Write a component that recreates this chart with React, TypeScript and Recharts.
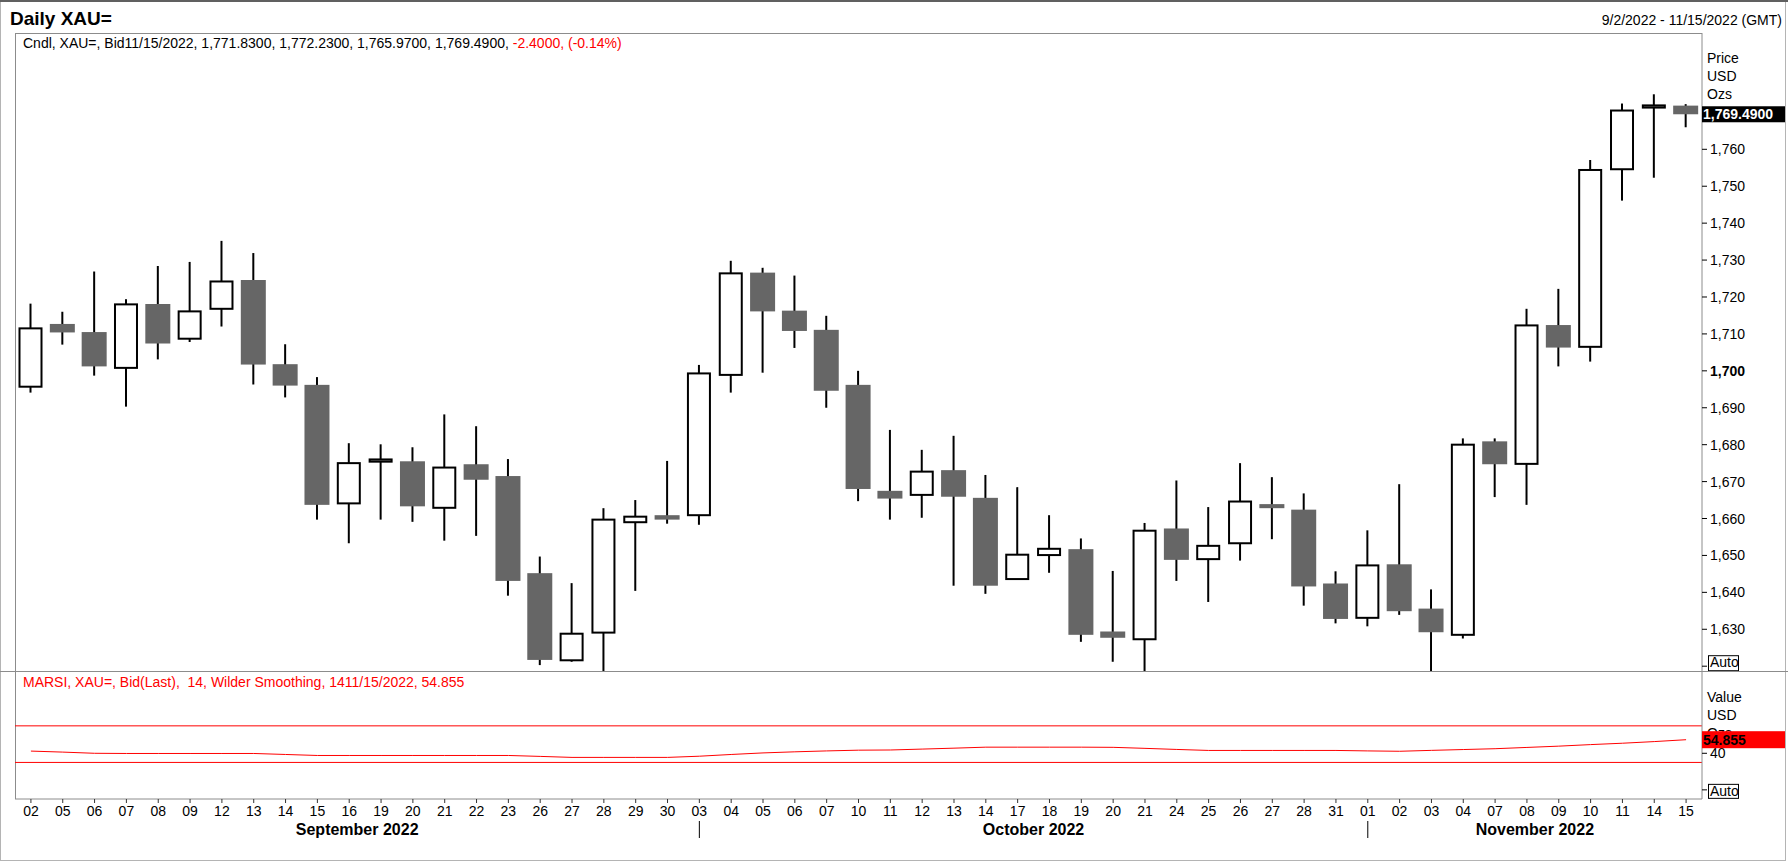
import React from "react";
import { ComposedChart, Bar, Line, XAxis, YAxis, ReferenceLine } from "recharts";

// ---------- data ----------
const dates: string[] = [
  "2022-09-02", "2022-09-05", "2022-09-06", "2022-09-07", "2022-09-08", "2022-09-09", "2022-09-12",
  "2022-09-13", "2022-09-14", "2022-09-15", "2022-09-16", "2022-09-19", "2022-09-20", "2022-09-21",
  "2022-09-22", "2022-09-23", "2022-09-26", "2022-09-27", "2022-09-28", "2022-09-29", "2022-09-30",
  "2022-10-03", "2022-10-04", "2022-10-05", "2022-10-06", "2022-10-07", "2022-10-10", "2022-10-11",
  "2022-10-12", "2022-10-13", "2022-10-14", "2022-10-17", "2022-10-18", "2022-10-19", "2022-10-20",
  "2022-10-21", "2022-10-24", "2022-10-25", "2022-10-26", "2022-10-27", "2022-10-28", "2022-10-31",
  "2022-11-01", "2022-11-02", "2022-11-03", "2022-11-04", "2022-11-07", "2022-11-08", "2022-11-09",
  "2022-11-10", "2022-11-11", "2022-11-14", "2022-11-15",
];

const opens: number[] = [
  1695.7, 1712.7, 1710.5, 1700.8, 1718.1, 1708.7, 1716.8, 1724.6, 1701.8, 1696.2, 1664.1, 1675.4, 1675.5, 1662.9,
  1674.7, 1671.5, 1645.2, 1621.6, 1629.1, 1659.0, 1660.9, 1660.9, 1698.9, 1726.6, 1716.3, 1711.1, 1696.2, 1667.5,
  1666.4, 1673.1, 1665.6, 1643.6, 1650.1, 1651.7, 1629.4, 1627.3, 1657.3, 1649.0, 1653.3, 1663.9, 1662.4, 1642.4,
  1633.1, 1647.6, 1635.6, 1628.5, 1680.9, 1674.8, 1712.4, 1706.5, 1754.6, 1771.3, 1771.83,
];
const highs: number[] = [
  1718.2, 1716.0, 1726.9, 1719.4, 1728.4, 1729.5, 1735.2, 1731.9, 1707.2, 1698.3, 1680.4, 1680.1, 1679.3, 1688.2,
  1685.0, 1676.1, 1649.7, 1642.5, 1662.8, 1665.0, 1675.6, 1701.6, 1729.8, 1727.9, 1725.8, 1714.9, 1700.0, 1684.0,
  1678.6, 1682.4, 1671.8, 1668.5, 1660.9, 1654.6, 1645.8, 1658.8, 1670.3, 1663.1, 1675.0, 1671.2, 1666.8, 1645.7,
  1656.8, 1669.3, 1640.8, 1681.7, 1681.7, 1716.8, 1722.2, 1757.1, 1772.4, 1774.9, 1772.23,
];
const lows: number[] = [
  1694.1, 1707.1, 1698.7, 1690.3, 1703.1, 1707.8, 1712.0, 1696.3, 1692.8, 1659.7, 1653.3, 1659.7, 1659.1, 1654.0,
  1655.3, 1639.1, 1620.3, 1621.2, 1615.0, 1640.4, 1658.6, 1658.3, 1694.1, 1699.5, 1706.2, 1690.0, 1664.7, 1659.7,
  1660.2, 1641.8, 1639.6, 1643.4, 1645.3, 1626.6, 1621.2, 1616.0, 1643.1, 1637.4, 1648.6, 1654.4, 1636.4, 1631.6,
  1630.8, 1633.9, 1615.0, 1627.5, 1665.8, 1663.7, 1701.2, 1702.5, 1746.1, 1752.3, 1765.97,
];
const closes: number[] = [
  1711.5, 1710.4, 1701.2, 1718.0, 1707.4, 1716.1, 1724.2, 1701.7, 1696.0, 1663.7, 1675.0, 1676.0, 1663.3, 1673.8,
  1670.5, 1643.1, 1621.7, 1628.8, 1659.7, 1660.5, 1659.7, 1699.3, 1726.4, 1716.1, 1710.8, 1694.6, 1668.0, 1665.4,
  1672.7, 1665.9, 1641.8, 1650.2, 1651.8, 1628.5, 1627.7, 1656.7, 1648.8, 1652.6, 1664.6, 1662.8, 1641.6, 1632.8,
  1647.3, 1634.9, 1629.2, 1680.0, 1674.7, 1712.3, 1706.3, 1754.4, 1770.5, 1771.89, 1769.49,
];
const rsiValues: number[] = [
  42.4, 41.3, 40.0, 39.8, 39.8, 39.8, 39.8, 39.8, 38.7, 37.6, 37.6, 37.6, 37.6, 37.6, 37.6, 37.6, 36.6, 35.5,
  35.5, 35.5, 35.5, 36.8, 38.7, 40.4, 41.6, 42.6, 43.4, 43.6, 44.6, 45.6, 46.7, 46.7, 46.7, 46.7, 46.5, 45.4,
  44.2, 43.1, 43.1, 43.1, 43.1, 43.1, 42.6, 42.2, 43.2, 44.1, 45.0, 46.4, 47.8, 49.5, 51.0, 52.8, 54.855,
];

const priceTicks: number[] = [1620, 1630, 1640, 1650, 1660, 1670, 1680, 1690, 1700, 1710, 1720, 1730, 1740, 1750, 1760];
const priceDomain: number[] = [1618.7, 1791.5];
const rsiTicks: number[] = [0, 40];
const rsiDomain: number[] = [-10, 130];
const rsiBands: number[] = [30, 70];
const monthLabels: string[] = ["September 2022", "October 2022", "November 2022"];

// ---------- layout ----------
const W = 1788;
const H = 862;
const PLOT_L = 15;
const AXIS_W = 86;
const PLOT_R = W - AXIS_W;
const PRICE_TOP = 33;
const DIV_Y = 671;
const RSI_PLOT_H = 128;
const RSI_CHART_H = H - DIV_Y;
const X_AXIS_H = 47;
const FONT = '"Liberation Sans", Arial, Helvetica, sans-serif';
const FRAME = "#8c8c8c";
const GRAY = "#666666";
const RED = "#ff0000";

const data = dates.map((d, i) => ({
  d,
  o: opens[i],
  h: highs[i],
  l: lows[i],
  c: closes[i],
  rsi: rsiValues[i],
}));

const n = dates.length;
const lastOpen = opens[n - 1];
const lastHigh = highs[n - 1];
const lastLow = lows[n - 1];
const lastClose = closes[n - 1];
const prevClose = closes[n - 2];
const lastRsi = rsiValues[n - 1];

const fmt4 = (v: number) =>
  v.toLocaleString("en-US", { minimumFractionDigits: 4, maximumFractionDigits: 4 });
const mdy = (s: string) => {
  const [y, m, d] = s.split("-");
  return `${parseInt(m, 10)}/${parseInt(d, 10)}/${y}`;
};
const mdyPad = (s: string) => {
  const [y, m, d] = s.split("-");
  return `${m}/${d}/${y}`;
};

// first index of every month
const monthStarts: number[] = [];
dates.forEach((d, i) => {
  if (i === 0 || d.slice(0, 7) !== dates[i - 1].slice(0, 7)) monthStarts.push(i);
});

// ---------- renderers ----------
const Candle = (props: any) => {
  const { x, y, width, height, payload } = props;
  if (!payload || !isFinite(y) || !isFinite(height)) return null;
  const { o, h, l, c } = payload;
  const py = (v: number) => y + ((h - v) / (h - l)) * height;
  const cx = x + width / 2;
  const up = c >= o;
  const top = py(Math.max(o, c));
  const bot = py(Math.min(o, c));
  return (
    <g>
      <line x1={cx} x2={cx} y1={py(h)} y2={py(l)} stroke="#000" strokeWidth={2} />
      {up ? (
        <rect x={x + 1.5} y={top} width={width - 3} height={Math.max(bot - top, 0.4)} fill="#fff" stroke="#000" strokeWidth={2} />
      ) : (
        <rect x={x} y={top} width={width} height={Math.max(bot - top, 1)} fill={GRAY} />
      )}
    </g>
  );
};

const PriceTick = (props: any) => {
  const { x, y, payload } = props;
  const v = payload.value as number;
  if (v === lastClose) {
    return (
      <g>
        <rect x={x - 8} y={y - 8} width={83} height={16} fill="#000" />
        <text x={x - 7} y={y + 5} fill="#fff" fontWeight="bold" fontSize={14} fontFamily={FONT}>
          {fmt4(v)}
        </text>
      </g>
    );
  }
  if (v === priceTicks[0]) {
    return (
      <g>
        <rect x={x - 1.5} y={y - 10.5} width={30} height={15} fill="#fff" stroke="#000" strokeWidth={1} />
        <text x={x} y={y + 1} fill="#000" fontSize={14} fontFamily={FONT}>
          Auto
        </text>
      </g>
    );
  }
  return (
    <text x={x} y={y + 5} fill="#000" fontSize={14} fontFamily={FONT} fontWeight={v === 1700 ? "bold" : "normal"}>
      {v.toLocaleString("en-US")}
    </text>
  );
};

const RsiTick = (props: any) => {
  const { x, y, payload } = props;
  const v = payload.value as number;
  if (v === lastRsi) {
    return (
      <g>
        <rect x={x - 8} y={y - 8.5} width={83} height={17} fill={RED} />
        <text x={x - 7} y={y + 5} fill="#000" fontWeight="bold" fontSize={14} fontFamily={FONT}>
          {v.toFixed(3)}
        </text>
      </g>
    );
  }
  if (v === rsiTicks[0]) {
    return (
      <g>
        <rect x={x - 1.5} y={y - 5.5} width={30} height={14} fill="#fff" stroke="#000" strokeWidth={1} />
        <text x={x} y={y + 6} fill="#000" fontSize={14} fontFamily={FONT}>
          Auto
        </text>
      </g>
    );
  }
  return (
    <text x={x} y={y + 5} fill="#000" fontSize={14} fontFamily={FONT}>
      {v}
    </text>
  );
};

// day label; on the first day of each month also the month separator and the month title
const DayTick = (props: any) => {
  const { x, y, payload } = props;
  const i: number = typeof payload.index === "number" ? payload.index : dates.indexOf(payload.value);
  const half: number =
    typeof payload.offset === "number" && payload.offset > 0 ? payload.offset : (PLOT_R - PLOT_L) / n / 2;
  const band = half * 2;
  const k = monthStarts.indexOf(i);
  let extra: React.ReactNode = null;
  if (k >= 0) {
    const left = k === 0 ? x - half : x;
    const next = k + 1 < monthStarts.length ? monthStarts[k + 1] : -1;
    const right = next >= 0 ? x + (next - i) * band : x - half + (n - i) * band;
    extra = (
      <g>
        {k > 0 && <line x1={x} x2={x} y1={y + 16} y2={y + 33} stroke="#000" strokeWidth={1} />}
        <text x={(left + right) / 2} y={y + 30} textAnchor="middle" fill="#000" fontSize={16} fontWeight="bold" fontFamily={FONT}>
          {monthLabels[k]}
        </text>
      </g>
    );
  }
  return (
    <g>
      <text x={x} y={y + 11} textAnchor="middle" fill="#000" fontSize={14} fontFamily={FONT}>
        {String(payload.value).slice(8)}
      </text>
      {extra}
    </g>
  );
};

// ---------- app ----------
export default function App() {
  const change = lastClose - prevClose;
  const pct = (change / prevClose) * 100;
  const legendBlack = `Cndl, XAU=, Bid${mdyPad(dates[n - 1])}, ${fmt4(lastOpen)}, ${fmt4(lastHigh)}, ${fmt4(lastLow)}, ${fmt4(lastClose)}, `;
  const legendRed = `${change.toFixed(4)}, (${pct.toFixed(2)}%)`;
  const rsiLegend = `MARSI, XAU=, Bid(Last),  14, Wilder Smoothing, 14${mdyPad(dates[n - 1])}, ${lastRsi.toFixed(3)}`;

  return (
    <div style={{ position: "absolute", left: 0, top: 0, width: W, height: H, background: "#fff", overflow: "hidden" }}>
      <svg width={W} height={H} style={{ position: "absolute", left: 0, top: 0 }}>
        {/* outer window frame */}
        <rect x={0.5} y={0.5} width={1785} height={860} fill="none" stroke="#b4b4b4" />
        <line x1={0} x2={W} y1={1} y2={1} stroke="#606060" strokeWidth={2} />
        {/* header */}
        <text x={10} y={25} fontSize={19} fontWeight="bold" fontFamily={FONT} fill="#000">
          Daily XAU=
        </text>
        <text x={1782} y={25} textAnchor="end" fontSize={14} fontFamily={FONT} fill="#000">
          {`${mdy(dates[0])} - ${mdy(dates[n - 1])} (GMT)`}
        </text>
        {/* plot frames */}
        <line x1={PLOT_L} x2={PLOT_R} y1={PRICE_TOP + 0.5} y2={PRICE_TOP + 0.5} stroke={FRAME} />
        <line x1={PLOT_L + 0.5} x2={PLOT_L + 0.5} y1={PRICE_TOP} y2={DIV_Y + RSI_PLOT_H} stroke={FRAME} />
        <line x1={0} x2={W} y1={DIV_Y + 0.5} y2={DIV_Y + 0.5} stroke={FRAME} />
        {/* legends */}
        <text x={23} y={48} fontSize={14} fontFamily={FONT} fill="#000" style={{ whiteSpace: "pre" }}>
          {legendBlack}
          <tspan fill={RED}>{legendRed}</tspan>
        </text>
        <text x={23} y={687} fontSize={14} fontFamily={FONT} fill={RED} style={{ whiteSpace: "pre" }}>
          {rsiLegend}
        </text>
        {/* axis units */}
        {["Price", "USD", "Ozs"].map((t, i) => (
          <text key={"p" + t} x={1707} y={63 + i * 18} fontSize={14} fontFamily={FONT} fill="#000">
            {t}
          </text>
        ))}
        {["Value", "USD", "Ozs"].map((t, i) => (
          <text key={"v" + t} x={1707} y={702 + i * 18} fontSize={14} fontFamily={FONT} fill="#000">
            {t}
          </text>
        ))}
      </svg>

      <div style={{ position: "absolute", left: 0, top: 0 }}>
        <ComposedChart width={W} height={DIV_Y} data={data} margin={{ top: PRICE_TOP, right: 0, bottom: 0, left: PLOT_L }}>
          <XAxis dataKey="d" hide />
          <YAxis
            orientation="right"
            width={AXIS_W}
            domain={priceDomain}
            allowDataOverflow
            ticks={[...priceTicks, lastClose]}
            interval={0}
            tick={PriceTick}
            tickSize={5}
            tickMargin={3}
            axisLine={{ stroke: FRAME }}
            tickLine={{ stroke: "#000" }}
          />
          <Bar dataKey={(e: any) => [e.l, e.h]} barSize={25} shape={Candle} isAnimationActive={false} />
        </ComposedChart>
      </div>

      <div style={{ position: "absolute", left: 0, top: DIV_Y }}>
        <ComposedChart
          width={W}
          height={RSI_CHART_H}
          data={data}
          margin={{ top: 0, right: 0, bottom: RSI_CHART_H - RSI_PLOT_H - X_AXIS_H, left: PLOT_L }}
        >
          <XAxis
            dataKey="d"
            scale="band"
            interval={0}
            height={X_AXIS_H}
            tickSize={4}
            tickMargin={2}
            tick={DayTick}
            axisLine={{ stroke: FRAME }}
            tickLine={{ stroke: "#333" }}
          />
          <YAxis
            orientation="right"
            width={AXIS_W}
            domain={rsiDomain}
            allowDataOverflow
            ticks={[...rsiTicks, lastRsi]}
            interval={0}
            tick={RsiTick}
            tickSize={5}
            tickMargin={3}
            axisLine={{ stroke: FRAME }}
            tickLine={{ stroke: "#000" }}
          />
          {rsiBands.map((b) => (
            <ReferenceLine key={b} y={b} stroke={RED} strokeWidth={1} />
          ))}
          <Line type="linear" dataKey="rsi" stroke={RED} strokeWidth={1} dot={false} activeDot={false} isAnimationActive={false} />
        </ComposedChart>
      </div>
    </div>
  );
}
